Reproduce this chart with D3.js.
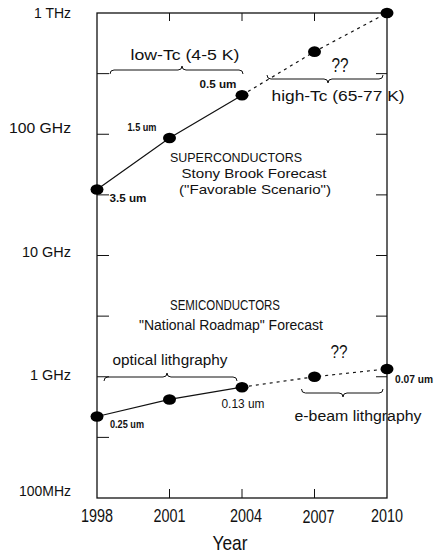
<!DOCTYPE html>
<html>
<head>
<meta charset="utf-8">
<script src="https://cdn.jsdelivr.net/npm/d3@7"></script>
<style>
  html, body { margin: 0; padding: 0; background: #fff; }
  svg { display: block; }
  text { font-family: "Liberation Sans", Arial, sans-serif; fill: #111; }
  text.b { font-weight: bold; }
</style>
</head>
<body>
<svg id="chart" width="445" height="554"></svg>
<script>
// ---- data ----
const years = [1998, 2001, 2004, 2007, 2010];
const superGHz = [35, 93, 210, 480, 1000];        // superconductor clock (GHz)
const semiGHz = [0.47, 0.65, 0.82, 1.0, 1.16];     // semiconductor clock (GHz)
const superFeature = ["3.5 um", "1.5 um", "0.5 um", null, null];
const semiFeature = ["0.25 um", null, "0.13 um", null, "0.07 um"];
const yTickValues = [1000, 100, 10, 1, 0.1];
const yTickLabels = ["1 THz", "100 GHz", "10 GHz", "1 GHz", "100MHz"];
const xTickValues = [1998, 2001, 2004, 2007, 2010];
const xTickLabels = ["1998", "2001", "2004", "2007", "2010"];
const solidUntil = 2004;

// ---- layout ----
const svg = d3.select("#chart");
const L = 97, R = 387, T = 13, B = 498;
const x = d3.scaleLinear().domain([1998, 2010]).range([L, R]);
const y = d3.scaleLog().domain([0.1, 1000]).range([B, T]);
const ink = "#111";

// frame
svg.append("rect").attr("x", L).attr("y", T).attr("width", R - L).attr("height", B - T)
  .attr("fill", "none").attr("stroke", ink).attr("stroke-width", 1.3);

// half-decade ticks
const halfTicks = d3.range(-0.5, 3.01, 0.5).map(e => Math.pow(10, e)).filter(v => v > 0.1 && v < 1000);
svg.append("g").selectAll("line").data(halfTicks).join("line")
  .attr("x1", L).attr("x2", L + 12).attr("y1", d => y(d)).attr("y2", d => y(d))
  .attr("stroke", ink).attr("stroke-width", 1);
svg.append("g").selectAll("line").data(halfTicks.filter(v => v >= 1)).join("line")
  .attr("x1", R - 11).attr("x2", R).attr("y1", d => y(d)).attr("y2", d => y(d))
  .attr("stroke", ink).attr("stroke-width", 1);

// x ticks (inner)
const innerYears = xTickValues.slice(1, -1);
svg.append("g").selectAll("line").data(innerYears).join("line")
  .attr("x1", d => x(d)).attr("x2", d => x(d)).attr("y1", T).attr("y2", T + 8)
  .attr("stroke", ink).attr("stroke-width", 1);
svg.append("g").selectAll("line").data(innerYears).join("line")
  .attr("x1", d => x(d)).attr("x2", d => x(d)).attr("y1", B).attr("y2", B - 9)
  .attr("stroke", ink).attr("stroke-width", 1);

// y tick labels
const yLabW = [37, 62, 49, 41, 52];
const yLabDy = [5, -1, 1, 3, -2];
svg.append("g").selectAll("text").data(yTickValues).join("text")
  .attr("x", 71).attr("y", (d, i) => y(d) + yLabDy[i])
  .attr("text-anchor", "end").attr("font-size", 14)
  .attr("textLength", (d, i) => yLabW[i]).attr("lengthAdjust", "spacingAndGlyphs")
  .text((d, i) => yTickLabels[i]);

// x tick labels
const xLabDx = [0, 0, 4, 4, 0];
svg.append("g").selectAll("text").data(xTickValues).join("text")
  .attr("x", (d, i) => x(d) + xLabDx[i]).attr("y", (d, i) => 522 + (i === 3 ? 1 : 0))
  .attr("text-anchor", "middle").attr("font-size", 18)
  .attr("textLength", 32).attr("lengthAdjust", "spacingAndGlyphs")
  .text((d, i) => xTickLabels[i]);

svg.append("text").attr("x", x(2004) - 12).attr("y", 550).attr("text-anchor", "middle")
  .attr("font-size", 21).attr("textLength", 35).attr("lengthAdjust", "spacingAndGlyphs").text("Year");

// ---- series ----
function drawSeries(vals) {
  const pts = years.map((yr, i) => ({ yr, v: vals[i] }));
  const line = d3.line().x(d => x(d.yr)).y(d => y(d.v));
  svg.append("path").datum(pts.filter(d => d.yr <= solidUntil)).attr("d", line)
    .attr("fill", "none").attr("stroke", ink).attr("stroke-width", 1.2);
  svg.append("path").datum(pts.filter(d => d.yr >= solidUntil)).attr("d", line)
    .attr("fill", "none").attr("stroke", ink).attr("stroke-width", 1.2).attr("stroke-dasharray", "3,4");
  svg.append("g").selectAll("ellipse").data(pts).join("ellipse")
    .attr("cx", d => x(d.yr)).attr("cy", d => y(d.v)).attr("rx", 6.5).attr("ry", 5.3)
    .attr("fill", "#000");
}
drawSeries(superGHz);
drawSeries(semiGHz);

// ---- brace helper ----
function brace(x1, x2, yy, xc, dir, d = 4) {
  const p = `M${x1},${yy - dir * d} Q${x1},${yy} ${x1 + d},${yy} L${xc - d},${yy} Q${xc},${yy} ${xc},${yy + dir * d}` +
    ` Q${xc},${yy} ${xc + d},${yy} L${x2 - d},${yy} Q${x2},${yy} ${x2},${yy - dir * d}`;
  svg.append("path").attr("d", p).attr("fill", "none").attr("stroke", ink).attr("stroke-width", 1);
}
function label(txt, cx, by, size, w, opts = {}) {
  const t = svg.append("text").attr("x", cx).attr("y", by).attr("font-size", size)
    .attr("text-anchor", opts.anchor || "middle").text(txt);
  if (w) t.attr("textLength", w).attr("lengthAdjust", "spacingAndGlyphs");
  if (opts.bold) t.attr("class", "b");
  return t;
}

// superconductor annotations
label("low-Tc (4-5 K)", 185, 60, 14, 109);
brace(x(1998) + 13, x(2004) + 1, 70, 182, -1);
label("??", 340, 72, 20, 17);
brace(x(2004) + 25, R - 4, 79, 328, 1);
label("high-Tc (65-77 K)", 338, 101, 14, 133);
label("0.5 um", 218, 88, 11, 37, { bold: true });
label("1.5 um", 142, 131, 10, 29, { bold: true });
label("3.5 um", 128, 202, 10, 37, { bold: true });
label("SUPERCONDUCTORS", 236, 162, 13.5, 132);
label("Stony Brook Forecast", 254, 178, 13.5, 145);
label("(\"Favorable Scenario\")", 255, 194, 13.5, 152);

// semiconductor annotations
label("SEMICONDUCTORS", 225, 310, 14, 110);
label("\"National Roadmap\" Forecast", 231, 330, 14, 184);
label("optical lithgraphy", 170, 365, 14, 115);
brace(x(1998) + 7, x(2004) - 5, 377, 167, -1);
label("??", 339, 358, 19, 17);
label("0.13 um", 243, 408, 13, 43);
label("0.25 um", 127, 428, 11, 34, { bold: true });
label("0.07 um", 414, 383, 11, 38, { bold: true });
brace(x(2007) - 13, R - 4, 393, 343, 1);
label("e-beam lithgraphy", 358, 421, 14, 127);
</script>
</body>
</html>
